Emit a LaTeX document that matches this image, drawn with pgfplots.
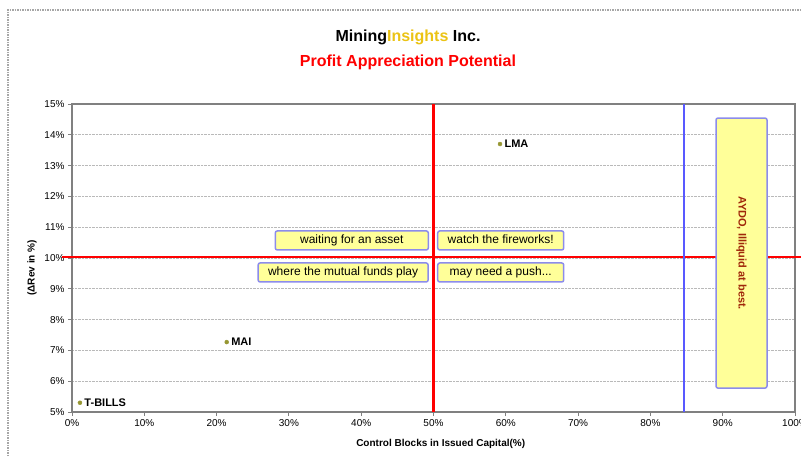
\documentclass[border=0pt]{standalone}
\usepackage{pgfplots}
\pgfplotsset{compat=1.18}
\usepackage{fontspec}
\setmainfont{Liberation Sans}
\definecolor{gold}{RGB}{235,195,20}
\definecolor{boxfill}{RGB}{255,255,153}
\definecolor{boxdraw}{RGB}{140,140,235}
\definecolor{ptcol}{RGB}{150,150,50}
\definecolor{aydo}{RGB}{160,40,10}
\begin{document}
\begin{tikzpicture}
\useasboundingbox (0pt,0pt) rectangle (801pt,456pt);
\clip (0pt,0pt) rectangle (801pt,456pt);
\draw[gray!70, line width=1.5pt, densely dotted] (8pt,-20pt) rectangle (830pt,446pt);
\node[font=\bfseries\fontsize{16}{18}\selectfont] at (408pt,419pt) {Mining\textcolor{gold}{Insights} Inc.};
\node[font=\bfseries\fontsize{16}{18}\selectfont, red] at (408pt,394pt) {Profit Appreciation Potential};
\begin{axis}[
  at={(72pt,44pt)}, anchor=south west, scale only axis,
  width=723pt, height=308pt,
  xmin=0, xmax=100, ymin=5, ymax=15,
  clip=false,
  xtick={0,10,...,100}, ytick={5,6,...,15},
  xticklabel={\pgfmathprintnumber{\tick}\%},
  yticklabel={\pgfmathprintnumber{\tick}\%},
  /pgf/number format/assume math mode=true,
  ticklabel style={font=\fontsize{10}{12}\selectfont},
  axis line style={draw=gray, line width=1.5pt},
  tick style={draw=gray, line width=1pt},
  tick align=outside, major tick length=4pt,
  xtick pos=bottom, ytick pos=left,
  ymajorgrids, grid style={densely dotted, gray!55, line width=0.8pt},
  xlabel={\textbf{Control Blocks in Issued Capital(\%)}},
  ylabel={\textbf{(ΔRev in \%)}},
  label style={font=\fontsize{10}{12}\selectfont},
  xlabel style={at={(axis description cs:0.51,-0.104)}, anchor=center},
  ylabel style={at={(axis description cs:-0.0553,0.468)}, anchor=center},
]
\addplot[red, line width=2.5pt] coordinates {(-1.4,10.03) (100.8,10.03)};
\addplot[red, line width=2.2pt] coordinates {(50,5) (50,15)};
\addplot[draw=blue!65, line width=2pt] coordinates {(84.6,5) (84.6,15)};
\addplot[only marks, mark=*, mark size=2pt, color=ptcol,
  nodes near coords, point meta=explicit symbolic,
  nodes near coords style={anchor=west, black, xshift=1pt, font=\bfseries\fontsize{11}{13}\selectfont}]
  coordinates {(1.1,5.3) [T-BILLS] (21.4,7.27) [MAI] (59.2,13.7) [LMA]};
\tikzset{qbox/.style={fill=boxfill, draw=boxdraw, line width=1.5pt, rounded corners=2pt, inner sep=0pt, minimum height=19pt, text height=8.7pt, text depth=2.6pt, font=\fontsize{12}{14}\selectfont}}
\node[qbox, minimum width=153pt] at (axis cs:38.7,10.57) {waiting for an asset};
\node[qbox, minimum width=126pt] at (axis cs:59.3,10.57) {watch the fireworks!};
\node[qbox, minimum width=170pt] at (axis cs:37.5,9.53) {where the mutual funds play};
\node[qbox, minimum width=126pt] at (axis cs:59.3,9.53) {may need a push...};
\node[fill=boxfill, draw=boxdraw, line width=1.5pt, rounded corners=2pt, minimum width=51pt, minimum height=270pt] at (axis cs:92.6,10.16) {};
\node[rotate=-90, text=aydo, font=\bfseries\fontsize{11}{13}\selectfont] at (axis cs:92.6,10.16) {AYDO, Illiquid at best.};
\end{axis}
\end{tikzpicture}
\end{document}
